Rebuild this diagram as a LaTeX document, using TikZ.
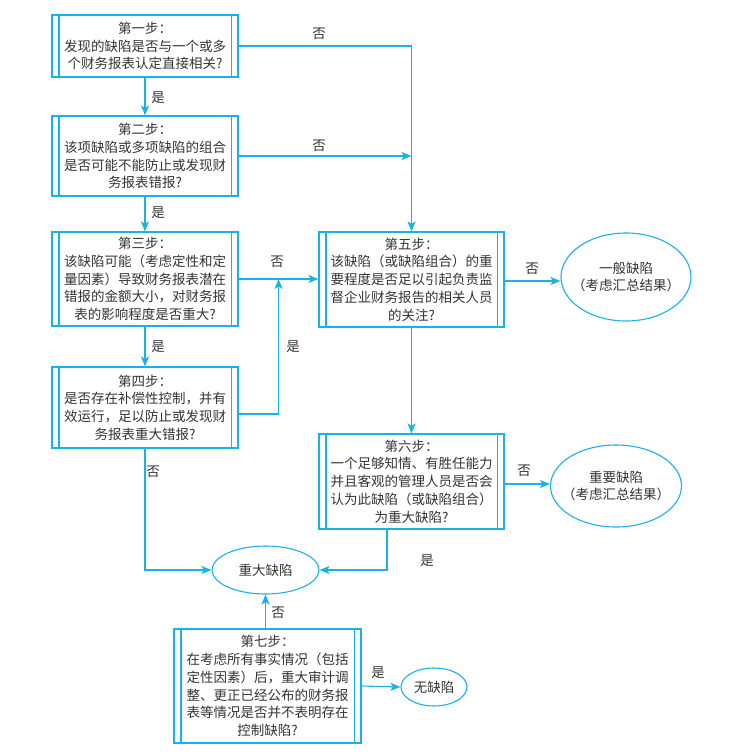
\documentclass[tikz,border=0pt]{standalone}
\usepackage{fontspec}
\setmainfont{Noto Sans CJK SC}
\usetikzlibrary{shapes.geometric,arrows.meta,calc}
\definecolor{lc}{HTML}{1AB0E8}
\definecolor{tc}{HTML}{333333}
\begin{document}
\begin{tikzpicture}[x=1pt,y=-1pt,
  line/.style={draw=lc, line width=1.1pt},
  arr/.style={line, -{Stealth[length=10pt,width=8pt,inset=2.5pt]}},
  txtfont/.style={font=\fontsize{13.5}{17.7}\selectfont},
  stepbox/.style={line, rectangle, inner sep=0pt, align=center, text=tc, txtfont},
  oval/.style={line, ellipse, inner sep=0pt},
  ovaltext/.style={align=center, text=tc, txtfont, inner sep=0pt},
  lbl/.style={text=tc, txtfont, inner sep=0pt}]
\useasboundingbox (0,0) rectangle (755,756);

\node[stepbox, minimum width=186pt, minimum height=62pt] (b1) at (145,46)
  {第一步：\\发现的缺陷是否与一个或多\\个财务报表认定直接相关?};
\node[stepbox, minimum width=186pt, minimum height=80pt] (b2) at (145,156)
  {第二步：\\该项缺陷或多项缺陷的组合\\是否可能不能防止或发现财\\务报表错报?};
\node[stepbox, minimum width=186pt, minimum height=94pt] (b3) at (145,279)
  {第三步：\\该缺陷可能（考虑定性和定\\量因素）导致财务报表潜在\\错报的金额大小，对财务报\\表的影响程度是否重大?};
\node[stepbox, minimum width=186pt, minimum height=81pt] (b4) at (145,407.5)
  {第四步：\\是否存在补偿性控制，并有\\效运行，足以防止或发现财\\务报表重大错报?};
\node[stepbox, minimum width=185pt, minimum height=95pt] (b5) at (411.5,279.5)
  {第五步：\\该缺陷（或缺陷组合）的重\\要程度是否足以引起负责监\\督企业财务报告的相关人员\\的关注?};
\node[stepbox, minimum width=185pt, minimum height=95pt] (b6) at (411.5,481.5)
  {第六步：\\一个足够知情、有胜任能力\\并且客观的管理人员是否会\\认为此缺陷（或缺陷组合）\\为重大缺陷?};
\node[stepbox, minimum width=187pt, minimum height=114pt] (b7) at (267.5,686)
  {第七步：\\在考虑所有事实情况（包括\\定性因素）后，重大审计调\\整、更正已经公布的财务报\\表等情况是否并不表明存在\\控制缺陷?};

\foreach \n in {b1,b2,b3,b4,b5,b6,b7}{
  \draw[line] ([xshift=7.5pt]\n.north west) -- ([xshift=7.5pt]\n.south west);
  \draw[line] ([xshift=-7.5pt]\n.north east) -- ([xshift=-7.5pt]\n.south east);
}

\node[oval, minimum width=130pt, minimum height=88pt] (e1) at (626,277) {};
\node[ovaltext] (t1) at (e1) {一般缺陷\\（考虑汇总结果）};
\node[oval, minimum width=131pt, minimum height=82pt] (e2) at (616,486) {};
\node[ovaltext] (t2) at (e2) {重要缺陷\\（考虑汇总结果）};
\node[oval, minimum width=107pt, minimum height=48pt] (e3) at (265.5,570) {};
\node[ovaltext] (t3) at (e3) {重大缺陷};
\node[oval, minimum width=66pt, minimum height=38pt] (e4) at (434,687) {};
\node[ovaltext] (t4) at (e4) {无缺陷};

% connectors
\draw[arr] (b1.south) -- (b2.north);
\draw[arr] (b2.south) -- (b3.north);
\draw[arr] (b3.south) -- (b4.north);
\draw[arr] (b1.east) -| (b5.north);
\coordinate (j2) at (b5.north |- b2.east);
\draw[arr] (b2.east) -- (j2);
\draw[arr] (b3.east) -- (b3.east -| b5.west);
\coordinate (j4) at ($(b3.east)!0.5!(b3.east -| b5.west)$);
\draw[arr] ([yshift=-6.5pt]b4.east) -| (j4);
\draw[arr] (b5.south) -- (b6.north);
\draw[arr] ([yshift=-1.5pt]b5.east) -- ([yshift=-1.5pt]b5.east -| e1.west);
\draw[arr] ([yshift=-2.5pt]b6.east) -- ([yshift=-2.5pt]b6.east -| e2.west);
\draw[arr] ([xshift=-24.5pt]b6.south) |- (e3.east);
\draw[arr] (b4.south) |- (e3.west);
\draw[arr] (b7.north -| e3.south) -- (e3.south);
\draw[arr] (b7.east) -- (e4.west);

% labels
\node[lbl] (l1) at (319,34) {否};
\node[lbl] (l2) at (319,146) {否};
\node[lbl] (l3) at (158,98) {是};
\node[lbl] (l4) at (158,213) {是};
\node[lbl] (l5) at (158,347) {是};
\node[lbl] (l6) at (277,262) {否};
\node[lbl] (l7) at (293,347) {是};
\node[lbl] (l8) at (532,269) {否};
\node[lbl] (l9) at (524,471) {否};
\node[lbl] (l10) at (427,561) {是};
\node[lbl] (l11) at (153,472) {否};
\node[lbl] (l12) at (278,613) {否};
\node[lbl] (l13) at (378,673) {是};
\end{tikzpicture}
\end{document}
